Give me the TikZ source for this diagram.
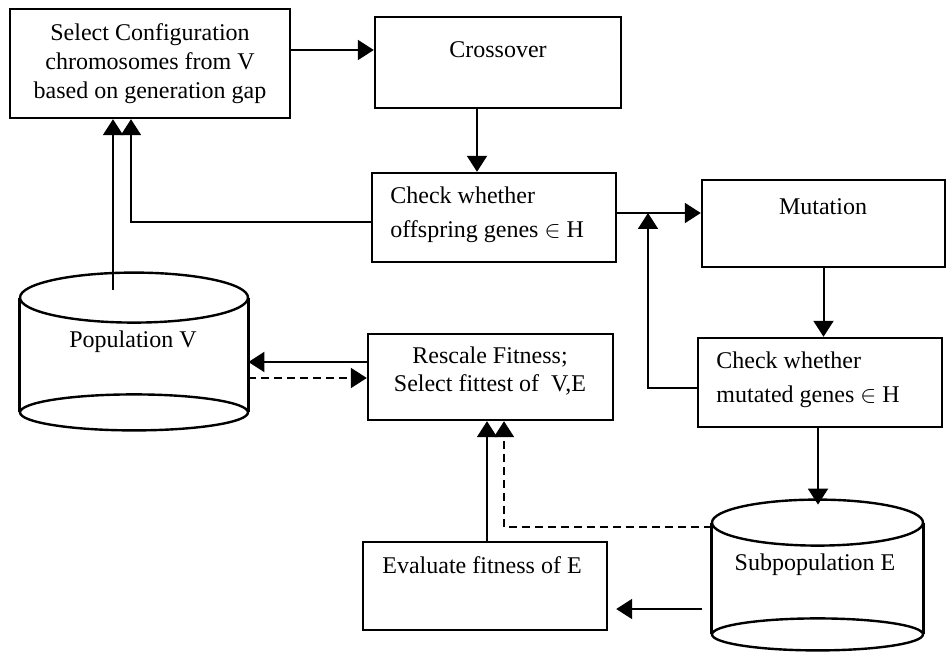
\documentclass[tikz,border=0pt]{standalone}
\usepackage{fontspec}
\setmainfont{Liberation Serif}
\usetikzlibrary{arrows.meta,calc}
\begin{document}
\begin{tikzpicture}[x=0.5pt,y=-0.5pt,
  box/.style={draw,line width=1.2pt,inner sep=0pt},
  cylbox/.style={inner sep=0pt},
  lw/.style={line width=1.2pt},
  arr/.style={line width=1pt,-{Triangle[length=8pt,width=10pt]}},
  dsh/.style={dash pattern=on 4pt off 2.5pt},
  txt/.style={inner sep=0pt,font=\fontsize{12}{14.5}\selectfont}]
\useasboundingbox (0,0) rectangle (947,652);
% boxes
\node[box,minimum width=140pt,minimum height=54.5pt] (sel) at (150,63.5) {};
\node[box,minimum width=123pt,minimum height=45.5pt] (cross) at (498,62.5) {};
\node[box,minimum width=122pt,minimum height=44.5pt] (chk1) at (494,217.5) {};
\node[box,minimum width=121.5pt,minimum height=43.5pt] (mut) at (823.5,223.5) {};
\node[box,minimum width=122pt,minimum height=44.5pt] (chk2) at (820,382.5) {};
\node[box,minimum width=122.5pt,minimum height=43pt] (resc) at (490.5,377) {};
\node[box,minimum width=122pt,minimum height=44pt] (eval) at (485,586) {};
% cylinders
\node[cylbox,minimum width=114pt,minimum height=78.5pt] (popV) at (134,351.5) {};
\draw[lw] ($(popV.north)+(0,25)$) ellipse [x radius=57pt,y radius=12.5pt];
\draw[lw] ($(popV.south)+(0,-18)$) ellipse [x radius=57pt,y radius=9pt];
\draw[lw] ($(popV.north west)+(0,25)$) -- ($(popV.south west)+(0,-18)$);
\draw[lw] ($(popV.north east)+(0,25)$) -- ($(popV.south east)+(0,-18)$);
\node[cylbox,minimum width=105.5pt,minimum height=75pt] (subE) at (817.5,575) {};
\draw[lw] ($(subE.north)+(0,23)$) ellipse [x radius=52.75pt,y radius=11.5pt];
\draw[lw] ($(subE.south)+(0,-16)$) ellipse [x radius=52.75pt,y radius=8pt];
\draw[lw] ($(subE.north west)+(0,23)$) -- ($(subE.south west)+(0,-16)$);
\draw[lw] ($(subE.north east)+(0,23)$) -- ($(subE.south east)+(0,-16)$);
% texts
\node[txt,align=center] (selT) at (150,64) {Select Configuration\\chromosomes from V\\based on generation gap};
\node[txt] (crossT) at (498,50) {Crossover};
\node[txt,align=left,anchor=west,font=\fontsize{12}{17}\selectfont] (chk1T) at (390,215) {Check whether\\offspring genes $\in$ H};
\node[txt] (mutT) at (823,207) {Mutation};
\node[txt,align=left,anchor=west,font=\fontsize{12}{17}\selectfont] (chk2T) at (716,380) {Check whether\\mutated genes $\in$ H};
\node[txt,align=center,font=\fontsize{12}{14}\selectfont] (rescT) at (490,371) {Rescale Fitness;\\Select fittest of\ \ V,E};
\node[txt] (evalT) at (482,565) {Evaluate fitness of E};
\node[txt] (popT) at (133,342) {Population V};
\node[txt] (subT) at (815,565) {Subpopulation E};
% connectors
\coordinate (s1) at ([yshift=6.75pt]sel.east);
\draw[arr] (s1) -- (s1 -| cross.west);
\coordinate (c2) at ([xshift=-10.5pt]cross.south);
\draw[arr] (c2) -- (c2 |- chk1.north);
\draw[arr] ([yshift=-2.25pt]chk1.west) -| ([xshift=-9.5pt]sel.south);
\draw[arr] ([xshift=-10.5pt,yshift=-8.5pt]popV.north) -- ([xshift=-18.5pt]sel.south);
\coordinate (k1) at ([yshift=2.25pt]chk1.east);
\draw[arr] (k1) -- (k1 -| mut.west);
\coordinate (j) at (648,213);
\draw[arr] ([yshift=-2.75pt]chk2.west) -| (j);
\draw[arr] (mut.south) -- (mut.south |- chk2.north);
\coordinate (m2) at ([xshift=-1pt]chk2.south);
\draw[arr,shorten >=-2.5pt] (m2) -- (m2 |- subE.north);
\coordinate (r1) at ([yshift=7.5pt]resc.west);
\draw[arr] (r1) -- (r1 -| popV.east);
\coordinate (r2) at ([yshift=-0.5pt]resc.west);
\draw[arr,dsh] (r2 -| popV.east) -- (r2);
\coordinate (e1) at ([xshift=1pt]eval.north);
\draw[arr] (e1) -- (e1 |- resc.south);
\coordinate (s2) at ([yshift=24pt]subE.west);
\coordinate (r3) at ([xshift=6.75pt]resc.south);
\draw[arr,dsh] (s2) -| (r3);
\coordinate (s3) at ([yshift=-17pt]subE.west);
\draw[arr,shorten <=5pt,shorten >=4pt] (s3) -- (s3 -| eval.east);
\end{tikzpicture}
\end{document}
